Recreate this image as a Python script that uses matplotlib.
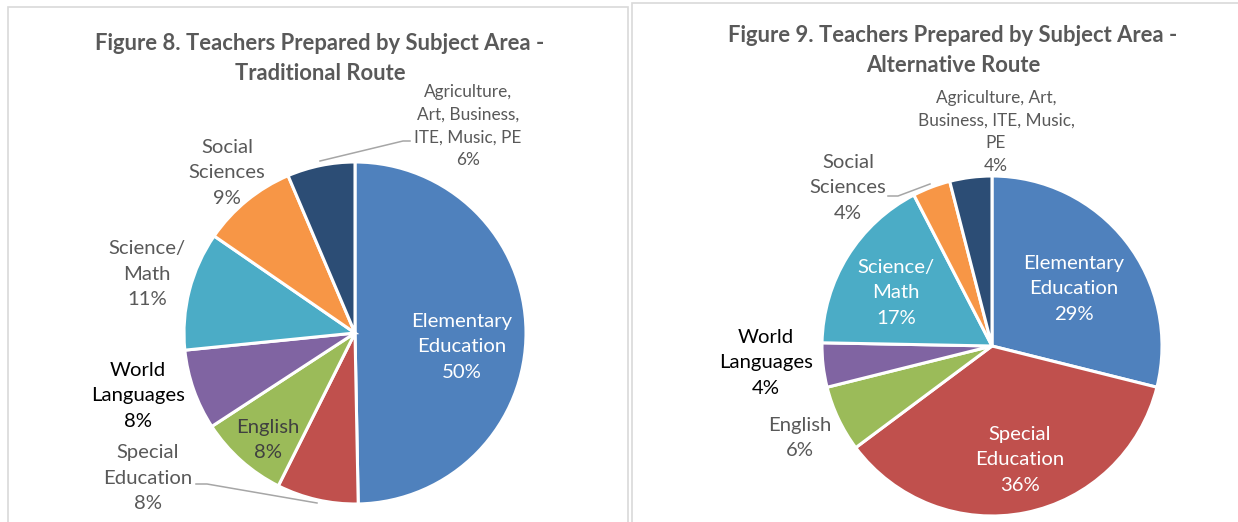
import matplotlib
matplotlib.use('Agg')
import matplotlib.pyplot as plt
from matplotlib.patches import Rectangle

plt.rcParams['font.family'] = ['Lato', 'DejaVu Sans']

# slice order: clockwise from 12 o'clock
subjects = ['Elementary Education', 'Special Education', 'English', 'World Languages',
            'Science/Math', 'Social Sciences', 'Agriculture, Art, Business, ITE, Music, PE']
traditional = [49.7, 7.7, 8.4, 7.6, 11.2, 9.0, 6.4]
alternative = [28.9, 35.9, 6.3, 4.2, 17.1, 3.6, 4.0]
colors = ['#4F81BD', '#C0504D', '#9BBB59', '#8064A2', '#4BACC6', '#F79646', '#2C4D75']

labels_trad = ['Elementary\nEducation', 'Special\nEducation', 'English', 'World\nLanguages',
               'Science/\nMath', 'Social\nSciences', 'Agriculture,\nArt, Business,\nITE, Music, PE']
labels_alt = ['Elementary\nEducation', 'Special\nEducation', 'English', 'World\nLanguages',
              'Science/\nMath', 'Social\nSciences', 'Agriculture, Art,\nBusiness, ITE, Music,\nPE']

W, H = 1238, 522
fig = plt.figure(figsize=(W / 100, H / 100), dpi=100)

GRAY = '#595959'


def panel(x0, x1, cx, cy, r, values, labels, spots, tcolors, leaders, title, tx, ty):
    ax = fig.add_axes([x0 / W, 0, (x1 - x0) / W, 1])
    ax.pie(values, colors=colors, startangle=90, counterclock=False, radius=1,
           wedgeprops=dict(edgecolor='white', linewidth=2.2))
    ax.set_xlim((x0 - cx) / r, (x1 - cx) / r)
    ax.set_ylim((cy - H) / r, cy / r)
    ax.axis('off')

    def d(px, py):
        return (px - cx) / r, (cy - py) / r

    for i, (lab, v) in enumerate(zip(labels, values)):
        px, py = spots[i]
        small = i == len(values) - 1
        ax.text(*d(px, py), '{}\n{:.0f}%'.format(lab, v), ha='center', va='center',
                fontsize=12.4 if small else 14.6, color=tcolors[i],
                linespacing=1.5 if small else 1.62)
    for pts in leaders:
        xs, ys = zip(*[d(*p) for p in pts])
        ax.plot(xs, ys, color='#A6A6A6', lw=1.1)
    ax.text(*d(tx, ty), title, ha='center', va='center', fontsize=15.8, fontweight='bold',
            color=GRAY, linespacing=1.52)


panel(0, 631, 355, 333, 171, traditional, labels_trad,
      [(462, 347), (148, 478), (268, 440), (138, 396), (147, 274), (227, 173), (468, 126)],
      ['white', GRAY, '#404040', 'black', GRAY, GRAY, GRAY],
      [[(196, 484), (207, 484), (317, 503)], [(410, 141), (403, 141), (320, 161)]],
      'Figure 8. Teachers Prepared by Subject Area -\nTraditional Route', 320, 58.5)

panel(631, W, 992, 346, 170, alternative, labels_alt,
      [(1074, 289), (1020, 460), (800, 438), (766, 363), (896, 293), (848, 188), (996, 132)],
      ['white', 'white', GRAY, 'black', 'white', GRAY, GRAY],
      [[(888, 196), (898, 196), (930, 184)]],
      'Figure 9. Teachers Prepared by Subject Area -\nAlternative Route', 953, 50.5)

# chart borders
fig.add_artist(Rectangle((8 / W, -0.1), 620 / W, 1.1 - 7 / H, transform=fig.transFigure,
                         fill=False, edgecolor='#D9D9D9', lw=1.2))
fig.add_artist(Rectangle((632 / W, -0.1), 700 / W, 1.1 - 3 / H, transform=fig.transFigure,
                         fill=False, edgecolor='#D9D9D9', lw=1.2))

fig.savefig('out.png', dpi=100, facecolor='white')
